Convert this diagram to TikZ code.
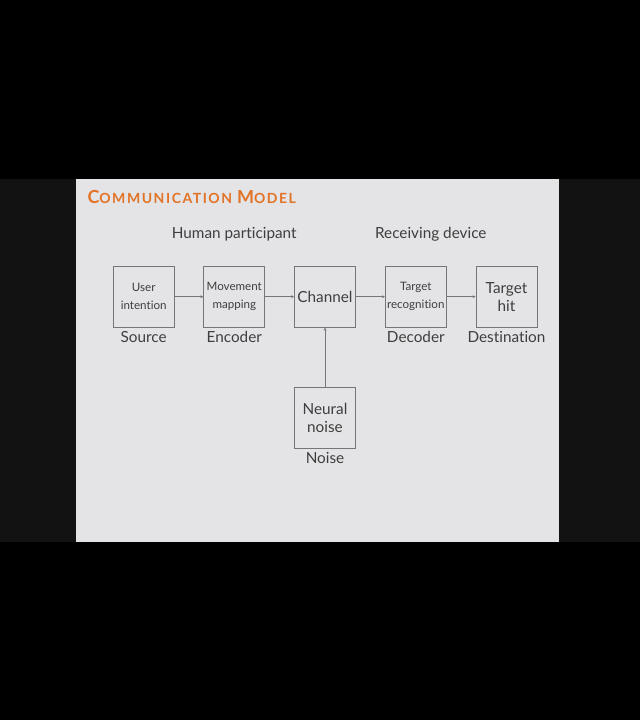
\documentclass[tikz,border=0pt]{standalone}
\usepackage{fontspec}
\setmainfont{Lato}[Ligatures=NoCommon]
\newfontfamily\titlefont[LetterSpace=11]{Lato}
\usetikzlibrary{arrows.meta}
\begin{document}
\begin{tikzpicture}[x=1pt,y=-1pt,
  blk/.style={draw=linecolor,line width=0.9pt,minimum size=61pt,inner sep=0pt,align=center,text=textcolor},
  small/.style={font=\fontsize{11.6}{18}\selectfont},
  big/.style={font=\fontsize{15.3}{18}\selectfont},
  tag/.style={font=\fontsize{15.3}{17}\selectfont,text=textcolor,inner sep=0pt,anchor=north},
  flow/.style={draw=linecolor,line width=0.8pt,-{Stealth[length=3pt,width=3pt]}}]
\definecolor{slidecolor}{RGB}{228,228,230}
\definecolor{bandcolor}{RGB}{18,18,18}
\definecolor{linecolor}{RGB}{118,118,118}
\definecolor{textcolor}{RGB}{62,62,62}
\definecolor{titlecolor}{RGB}{226,116,40}
% background
\fill [black] (0,0) rectangle (640,720);
\fill [bandcolor] (0,179) rectangle (640,541.5);
\fill [slidecolor] (75.5,179) rectangle (559.3,541.5);
% title and headings
\node [anchor=base west,inner sep=0pt,text=titlecolor] (title) at (87.3,203)
  {\titlefont\bfseries\fontsize{18}{20}\selectfont C\fontsize{14}{20}\selectfont OMMUNICATION
   \fontsize{18}{20}\selectfont M\fontsize{14}{20}\selectfont ODEL};
\node [big,text=textcolor,inner sep=0pt] (human) at (234.2,234.5) {Human participant};
\node [big,text=textcolor,inner sep=0pt] (device) at (430.8,234.5) {Receiving device};
% blocks
\node [blk,small] (src) at (143.7,296.7) {User\\intention};
\node [blk,small] (enc) at (234.3,296.7) {Movement\\mapping};
\node [blk,big] (chan) at (325,296.7) {Channel};
\node [blk,small] (dec) at (415.8,296.7) {Target\\recognition};
\node [blk,big] (dest) at (506.5,296.7) {Target\\hit};
\node [blk,big] (noise) at (325,418) {Neural\\noise};
% labels
\node [tag] (srclbl) at (143.7,331) {Source};
\node [tag] (enclbl) at (234.3,331) {Encoder};
\node [tag] (declbl) at (415.8,331) {Decoder};
\node [tag] (destlbl) at (506.5,331) {Destination};
\node [tag] (noiselbl) at (325,452.5) {Noise};
% connectors
\draw [flow] (src) -- (enc);
\draw [flow] (enc) -- (chan);
\draw [flow] (chan) -- (dec);
\draw [flow] (dec) -- (dest);
\draw [flow] (noise) -- (chan);
\end{tikzpicture}
\end{document}
